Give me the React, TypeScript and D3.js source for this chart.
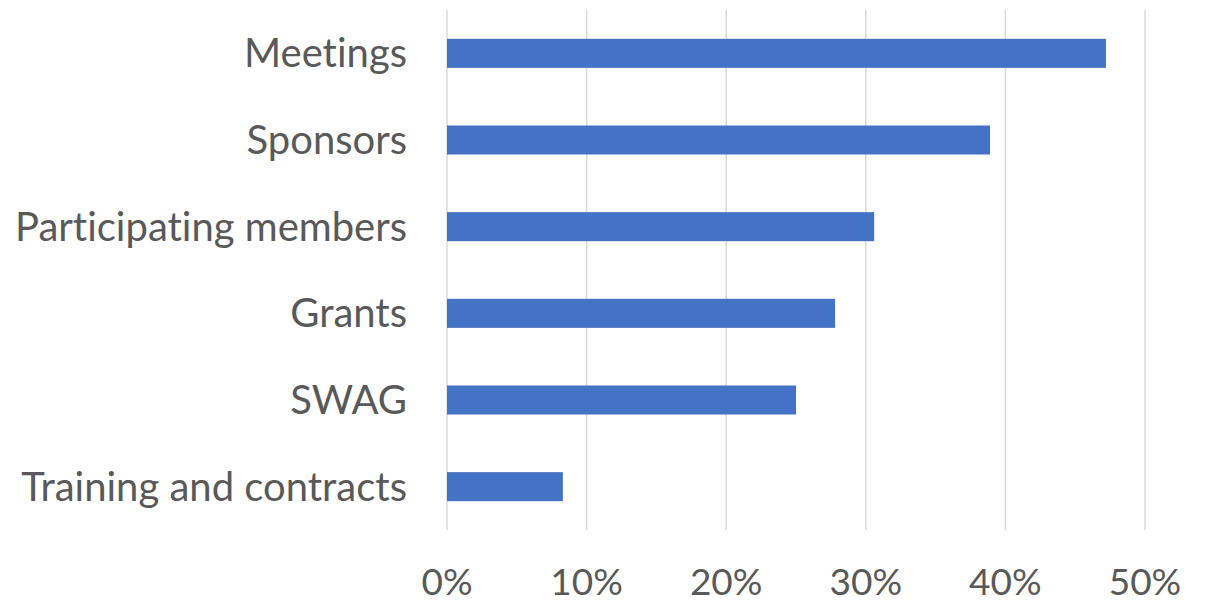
import React from "react";
import * as d3 from "d3";

const categories = [
  "Meetings",
  "Sponsors",
  "Participating members",
  "Grants",
  "SWAG",
  "Training and contracts",
];
const values = [0.472, 0.389, 0.306, 0.278, 0.25, 0.083];
const tickValues = [0, 0.1, 0.2, 0.3, 0.4, 0.5];

const width = 1210;
const height = 604;
const margin = { top: 10, right: 65, bottom: 74, left: 447 };

const App = () => {
  const xScale = d3
    .scaleLinear()
    .domain([0, 0.5])
    .range([margin.left, width - margin.right]);

  const yScale = d3
    .scaleBand()
    .domain(categories)
    .range([margin.top, height - margin.bottom])
    .paddingInner(0.665)
    .paddingOuter(0.3325);

  const fmt = d3.format(".0%");
  const font = "Lato, 'Noto Sans', sans-serif";
  const textStyle = { fontVariantLigatures: "none" as const };

  return (
    <svg
      width={width}
      height={height}
      style={{ position: "absolute", left: 0, top: 0, background: "#fff" }}
    >
      {/* gridlines */}
      {tickValues.map((t) => (
        <line
          key={t}
          x1={xScale(t)}
          x2={xScale(t)}
          y1={margin.top}
          y2={height - margin.bottom}
          stroke="#d9d9d9"
          strokeWidth={1.5}
        />
      ))}

      {/* bars */}
      {categories.map((c, i) => (
        <rect
          key={c}
          x={xScale(0)}
          y={yScale(c)}
          width={xScale(values[i]) - xScale(0)}
          height={yScale.bandwidth()}
          fill="#4472c4"
        />
      ))}

      {/* category labels */}
      {categories.map((c) => (
        <text
          key={c}
          x={margin.left - 40}
          y={yScale(c)! + yScale.bandwidth() / 2}
          dy="0.35em"
          textAnchor="end"
          fontFamily={font}
          fontSize={40}
          fill="#595959"
          style={textStyle}
        >
          {c}
        </text>
      ))}

      {/* tick labels */}
      {tickValues.map((t) => (
        <text
          key={t}
          x={xScale(t)}
          y={height - 22}
          dy="0.35em"
          textAnchor="middle"
          fontFamily={font}
          fontSize={37}
          fill="#595959"
          style={textStyle}
        >
          {fmt(t)}
        </text>
      ))}
    </svg>
  );
};

export default App;
